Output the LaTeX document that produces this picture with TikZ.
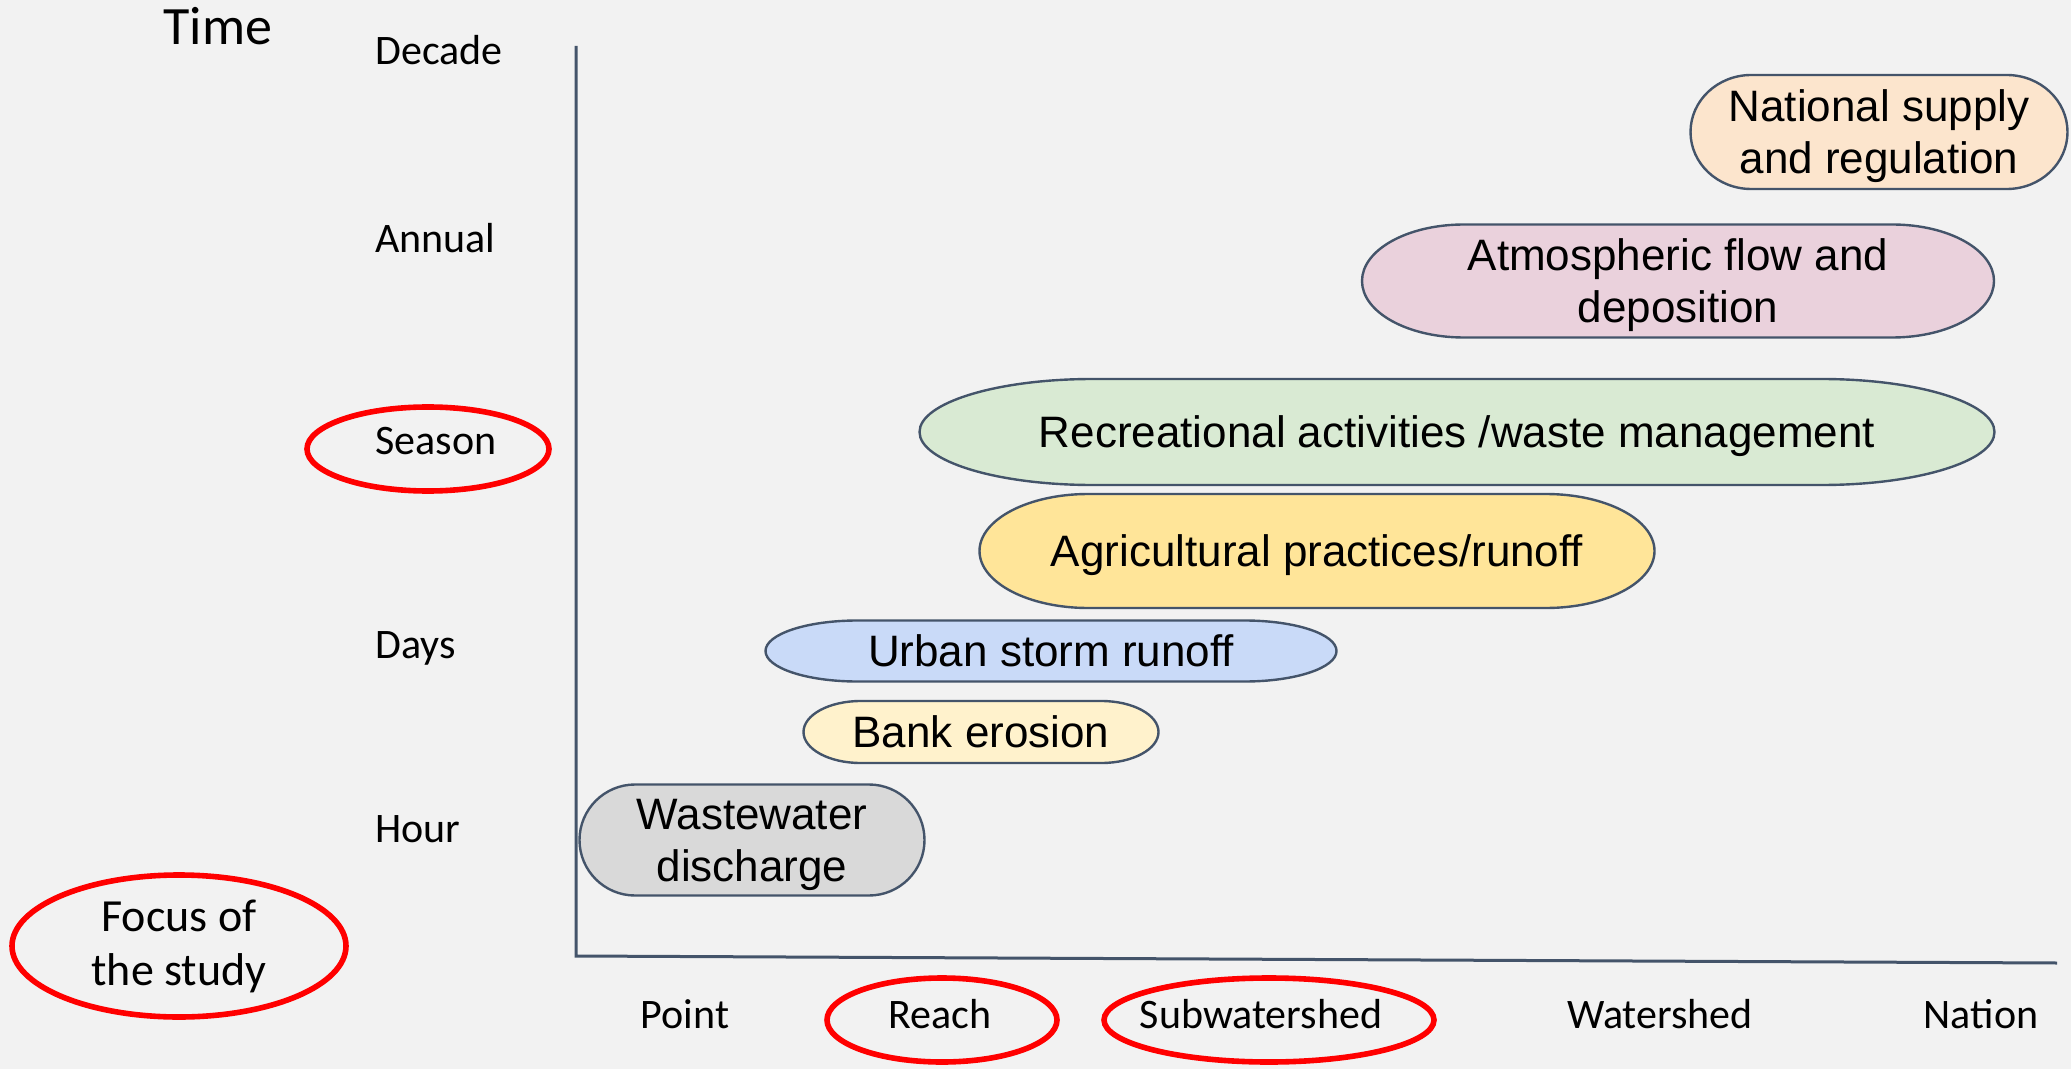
\documentclass[tikz,border=0pt]{standalone}
\usepackage{fontspec}
\setmainfont{Liberation Sans}
\newfontfamily\axisfont{Carlito}
\usetikzlibrary{shapes.geometric}
\definecolor{bgColor}{RGB}{242,242,242}
\definecolor{edgeColor}{RGB}{68,84,106}
\definecolor{ringColor}{RGB}{255,0,0}
\definecolor{natColor}{RGB}{252,229,205}
\definecolor{atmColor}{RGB}{234,209,220}
\definecolor{recColor}{RGB}{217,234,211}
\definecolor{agrColor}{RGB}{255,229,153}
\definecolor{urbColor}{RGB}{201,218,248}
\definecolor{bnkColor}{RGB}{255,242,204}
\definecolor{wstColor}{RGB}{217,217,217}

% capsule (terminator) behind a named text node: name, x, y, width, height, fill, text
\newcommand{\pillnode}[7]{%
  \filldraw[pillline, fill=#6] ({#2-#4/2+0.161*#4},{#3-#5/2}) -- ({#2+#4/2-0.161*#4},{#3-#5/2})
    arc[start angle=-90, end angle=90, x radius={0.161*#4}, y radius={#5/2}]
    -- ({#2-#4/2+0.161*#4},{#3+#5/2})
    arc[start angle=90, end angle=270, x radius={0.161*#4}, y radius={#5/2}] -- cycle;
  \node[pilltext] (#1) at (#2,#3) {#7};
}

\tikzset{
  pillline/.style={draw=edgeColor, line width=1.2pt},
  pilltext/.style={align=center, inner sep=0pt, text depth=0pt, font=\fontsize{22pt}{26pt}\selectfont},
  axislabel/.style={inner sep=0pt, text depth=0pt, font=\axisfont\fontsize{21pt}{25pt}\selectfont},
  ring/.style={draw=ringColor, line width=2.8pt},
}

\begin{document}
\begin{tikzpicture}[x=0.5pt, y=-0.5pt]
  % Fondo
  \useasboundingbox (0,0) rectangle (2071,1069);
  \fill[bgColor] (0,0) rectangle (2071,1069);

  % Ejes
  \coordinate (origin) at (576,956);
  \coordinate (ytop) at (576,46);
  \coordinate (xend) at (2057,963);
  \draw[edgeColor, line width=1.5pt] (ytop) -- (origin) -- (xend);

  % Escala temporal
  \node[font=\axisfont\fontsize{27pt}{30pt}\selectfont, inner sep=0pt] (timelbl) at (218,26) {Time};
  \node[axislabel, anchor=west] (decade) at (375,50) {Decade};
  \node[axislabel, anchor=west] (annual) at (375,238) {Annual};
  \node[axislabel, anchor=west] (season) at (375,441) {Season};
  \node[axislabel, anchor=west] (days) at (375,645) {Days};
  \node[axislabel, anchor=west] (hour) at (375,829) {Hour};

  % Escala espacial
  \node[axislabel] (point) at (685,1014) {Point};
  \node[axislabel] (reach) at (940,1014) {Reach};
  \node[axislabel] (subws) at (1261,1014) {Subwatershed};
  \node[axislabel] (ws) at (1660,1014) {Watershed};
  \node[axislabel] (nation) at (1981,1014) {Nation};

  % Fuentes
  \pillnode{natl}{1879}{132}{377}{114}{natColor}{National supply\\and regulation}
  \pillnode{atmo}{1678}{281}{632}{113}{atmColor}{Atmospheric flow and\\deposition}
  \pillnode{recr}{1457}{432}{1075}{106}{recColor}{Recreational activities /waste management}
  \pillnode{agri}{1317}{551}{675}{114}{agrColor}{Agricultural practices/runoff}
  \pillnode{urban}{1051}{651}{571}{61}{urbColor}{Urban storm runoff}
  \pillnode{bank}{981}{732}{355}{62}{bnkColor}{Bank erosion}
  \pillnode{waste}{752}{840}{345}{111}{wstColor}{Wastewater\\discharge}

  % Foco del estudio
  \node[ring, ellipse, inner sep=0pt, minimum width=167pt, minimum height=71pt, align=center,
        font=\axisfont\fontsize{23pt}{27pt}\selectfont] (focus) at (179,946) {Focus of\\the study};
  \draw[ring] (428,449) ellipse[x radius=121, y radius=42];
  \draw[ring] (942,1020) ellipse[x radius=115, y radius=42];
  \draw[ring] (1269,1020) ellipse[x radius=165, y radius=42];
\end{tikzpicture}
\end{document}
